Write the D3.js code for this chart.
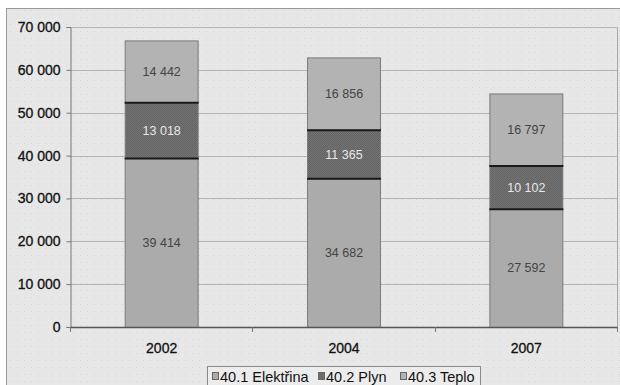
<!DOCTYPE html>
<html><head><meta charset="utf-8">
<script src="https://cdn.jsdelivr.net/npm/d3@7"></script>
<style>
html,body{margin:0;padding:0;background:#fff;}
svg{display:block;font-family:"Liberation Sans",Arial,sans-serif;}
</style></head>
<body>
<svg id="chart" width="620" height="385"></svg>
<script>
const years = ["2002", "2004", "2007"];
const seriesNames = ["40.1 Elektřina", "40.2 Plyn", "40.3 Teplo"];
const elektrina = [39414, 34682, 27592];
const plyn = [13018, 11365, 10102];
const teplo = [14442, 16856, 16797];
const yTicks = [0, 10000, 20000, 30000, 40000, 50000, 60000, 70000];

const fills = ["#ababab", "#6b6b6b", "#b3b3b3"];
const labelColors = ["#444", "#e8e8e8", "#444"];
const FONT = "'Liberation Sans',Arial,sans-serif";

const svg = d3.select("#chart");
const defs = svg.append("defs");

// faint dotted texture of the chart background
const bgPat = defs.append("pattern").attr("id", "bgdots").attr("width", 7).attr("height", 7)
  .attr("patternUnits", "userSpaceOnUse");
bgPat.append("rect").attr("width", 7).attr("height", 7).attr("fill", "#e7e7e7");
bgPat.append("rect").attr("x", 3).attr("y", 3).attr("width", 1).attr("height", 1).attr("fill", "#d6d6d6");

// checkered texture for the gas segment
const darkPat = defs.append("pattern").attr("id", "darkcheck").attr("width", 2).attr("height", 2)
  .attr("patternUnits", "userSpaceOnUse");
darkPat.append("rect").attr("width", 2).attr("height", 2).attr("fill", "#747474");
darkPat.append("rect").attr("width", 1).attr("height", 1).attr("fill", "#636363");
darkPat.append("rect").attr("x", 1).attr("y", 1).attr("width", 1).attr("height", 1).attr("fill", "#636363");

// outer chart frame
svg.append("rect").attr("x", 6.5).attr("y", 8.5).attr("width", 620).attr("height", 390)
  .attr("fill", "url(#bgdots)").attr("stroke", "#9a9a9a").attr("stroke-width", 1);

const plot = {left: 70, right: 617, top: 27, bottom: 327};

const x = d3.scaleBand().domain(years).range([plot.left, plot.right])
  .paddingInner(0.6).paddingOuter(0.3);
const y = d3.scaleLinear().domain([0, 70000]).range([plot.bottom, plot.top]);

// plot area border (top/right)
svg.append("path")
  .attr("d", `M${plot.left},${plot.top + 0.5}H${plot.right + 0.5}V${plot.bottom}`)
  .attr("fill", "none").attr("stroke", "#a8a8a8");

// horizontal gridlines
svg.append("g").selectAll("line").data(yTicks.filter(t => t > 0)).join("line")
  .attr("x1", plot.left).attr("x2", plot.right)
  .attr("y1", d => Math.round(y(d)) + 0.5).attr("y2", d => Math.round(y(d)) + 0.5)
  .attr("stroke", "#b4b4b4").attr("stroke-width", 1);

// stacked data
const rows = years.map((yr, i) => ({year: yr, a: elektrina[i], b: plyn[i], c: teplo[i]}));
const stack = d3.stack().keys(["a", "b", "c"])(rows);

const fmt = v => d3.format(",")(v).replace(/,/g, " ");

const barG = svg.append("g");
stack.forEach((layer, li) => {
  barG.append("g").selectAll("rect").data(layer).join("rect")
    .attr("x", d => x(d.data.year) + 0.5)
    .attr("y", d => y(d[1]) + 0.5)
    .attr("width", x.bandwidth())
    .attr("height", d => y(d[0]) - y(d[1]))
    .attr("fill", li === 1 ? "url(#darkcheck)" : fills[li])
    .attr("stroke", "#7a7a7a").attr("stroke-width", 1);
});

// heavy edges at the gas segment boundaries, drawn over neighbouring outlines
barG.append("g").selectAll("line")
  .data(stack[1].flatMap(d => [{d, v: d[0]}, {d, v: d[1]}])).join("line")
  .attr("x1", e => x(e.d.data.year)).attr("x2", e => x(e.d.data.year) + x.bandwidth() + 1)
  .attr("y1", e => y(e.v) + 0.5).attr("y2", e => y(e.v) + 0.5)
  .attr("stroke", "#1a1a1a").attr("stroke-width", 2);

stack.forEach((layer, li) => {
  barG.append("g").selectAll("text").data(layer).join("text")
    .attr("x", d => x(d.data.year) + x.bandwidth() / 2 + 0.5)
    .attr("y", d => (y(d[0]) + y(d[1])) / 2 + 4.5)
    .attr("text-anchor", "middle")
    .attr("font-size", 12.5)
    .attr("fill", labelColors[li])
    .text(d => fmt(d[1] - d[0]));
});

// y axis
const yAxis = svg.append("g").attr("transform", `translate(${plot.left + 0.5},0)`)
  .call(d3.axisLeft(y).tickValues(yTicks).tickSize(4).tickPadding(6).tickFormat(fmt));
yAxis.attr("font-family", FONT);
yAxis.select(".domain").attr("stroke", "#777");
yAxis.selectAll(".tick line").attr("stroke", "#777");
yAxis.selectAll(".tick text").attr("font-size", 14).attr("fill", "#111")
  .attr("stroke", "#111").attr("stroke-width", 0.3);

// x axis baseline and separators between categories
svg.append("line").attr("x1", plot.left).attr("x2", plot.right + 1)
  .attr("y1", plot.bottom + 0.5).attr("y2", plot.bottom + 0.5)
  .attr("stroke", "#555").attr("stroke-width", 1.5);
const seps = d3.range(years.length + 1).map(i => plot.left + i * (plot.right - plot.left) / years.length);
svg.append("g").selectAll("line").data(seps).join("line")
  .attr("x1", d => Math.round(d) + 0.5).attr("x2", d => Math.round(d) + 0.5)
  .attr("y1", plot.bottom).attr("y2", plot.bottom + 5)
  .attr("stroke", "#777");

svg.append("g").selectAll("text").data(years).join("text")
  .attr("x", d => x(d) + x.bandwidth() / 2 + 0.5)
  .attr("y", 353)
  .attr("text-anchor", "middle")
  .attr("font-size", 14).attr("fill", "#111")
  .attr("stroke", "#111").attr("stroke-width", 0.3)
  .text(d => d);

// legend
const legend = svg.append("g");
legend.append("rect").attr("x", 207.5).attr("y", 366.5).attr("width", 273).attr("height", 22)
  .attr("fill", "#ececec").attr("stroke", "#8a8a8a");
const legendX = [212, 318, 400];
seriesNames.forEach((name, i) => {
  legend.append("rect").attr("x", legendX[i] + 0.5).attr("y", 372.5).attr("width", 6).attr("height", 7)
    .attr("fill", i === 1 ? "#6b6b6b" : fills[i]).attr("stroke", "#666");
  legend.append("text").attr("x", legendX[i] + 8).attr("y", 382)
    .attr("font-size", 14.5).attr("fill", "#111").text(name);
});
</script>
</body></html>
